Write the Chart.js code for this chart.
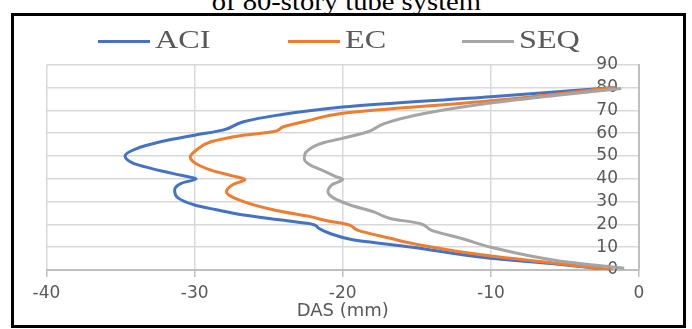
<!DOCTYPE html>
<html>
<head>
<meta charset="utf-8">
<script src="https://cdn.jsdelivr.net/npm/chart.js@4.4.1/dist/chart.umd.min.js"></script>
<style>
  html, body { margin:0; padding:0; background:#fff; width:692px; height:329px; overflow:hidden; }
  #wrap { position:relative; width:692px; height:329px; overflow:hidden; }
  #c { position:absolute; left:0; top:0; }
  #frame { position:absolute; left:11px; top:13px; width:669px; height:309px; border:3px solid #000; pointer-events:none; }
  #title { position:absolute; left:0; top:-11px; width:692px; text-align:center; white-space:nowrap;
           font-family:'Liberation Serif', serif; font-size:26px; line-height:26px; color:#000; }
  #title span { display:inline-block; transform:scaleX(1.1); transform-origin:center; }
  .li { position:absolute; top:0; height:60px; }
  .li .ln { position:absolute; left:0; top:40px; width:52px; height:3px; }
  .li .tx { position:absolute; left:57px; top:27px; font-family:'Liberation Serif', serif; font-size:26px; line-height:26px;
            color:#595959; white-space:nowrap; transform:scaleX(1.24); transform-origin:left center; }
  .li0 { left:98px; } .li1 { left:288px; } .li2 { left:462px; }
</style>
</head>
<body>
<div id="wrap">
  <div id="title"><span>of 80-story tube system</span></div>
  <canvas id="c" width="692" height="329"></canvas>
  <div id="legend"></div>
  <div id="frame"></div>
</div>
<script>
// ---- data (story level vs. DAS in mm) ----
const storiesACI = [0, 2.6, 5.1, 10, 13.4, 16.1, 18.2, 20.1, 22, 24.1, 26.5, 28.5, 31.5, 35, 38, 40, 41.5, 43.5, 45.3, 47, 50, 53, 56.2, 59.1, 61.3, 65, 67.9, 71.5, 76, 80];
const dasACI     = [-1.8, -5.6, -10, -15.3, -19.4, -20.9, -21.6, -22.1, -24.3, -26.7, -28.6, -30, -31.1, -31.35, -30.9, -29.9, -30.9, -32.3, -33.4, -34.2, -34.7, -34.0, -32.3, -30, -28.1, -26.7, -24.4, -20, -10, -1.6];

const storiesEC = [0, 3.0, 6.1, 11, 13.9, 17.5, 19.6, 20.3, 21.5, 23.4, 26, 30, 34.3, 37.5, 39.7, 41.5, 43.8, 45.6, 47.5, 49.4, 52.5, 56.2, 59.1, 60.6, 62.8, 65.7, 68.6, 74.2, 80];
const dasEC     = [-1.8, -5.6, -10, -14.8, -16.8, -19.0, -19.5, -19.9, -21.0, -22.2, -24.4, -26.7, -27.85, -27.4, -26.6, -27.6, -28.9, -29.6, -30.1, -30.3, -29.9, -28.9, -26.7, -24.7, -24.0, -22.2, -20.1, -10, -1.6];

const storiesSEQ = [0.8, 4.1, 10, 13.5, 17.4, 20.4, 22.6, 25.5, 28.5, 31.5, 34.3, 37.5, 39.7, 41, 43.5, 46, 48.9, 51.5, 54, 56, 57.6, 60.6, 64.2, 68.6, 73.3, 76.6, 79.6];
const dasSEQ     = [-1.0, -5.5, -10, -11.8, -14.0, -14.8, -16.8, -17.9, -19.5, -20.6, -21.0, -20.7, -20.0, -20.5, -21.3, -22.2, -22.6, -22.5, -22.0, -21.2, -20.1, -18.3, -17.2, -14.5, -9.9, -5.5, -1.2];

const seriesNames = ['ACI', 'EC', 'SEQ'];
const seriesColors = ['#4472C4', '#ED7D31', '#A5A5A5'];
const xTicks = [-40, -30, -20, -10, 0];
const yTicks = [0, 10, 20, 30, 40, 50, 60, 70, 80, 90];
const xTitle = 'DAS (mm)';

const toPoints = (xs, ys) => xs.map((x, i) => ({ x: x, y: ys[i] }));
const allX = [dasACI, dasEC, dasSEQ];
const allY = [storiesACI, storiesEC, storiesSEQ];

const datasets = seriesNames.map((name, i) => ({
  label: name,
  data: toPoints(allX[i], allY[i]),
  borderColor: seriesColors[i],
  backgroundColor: seriesColors[i],
  borderWidth: 3,
  pointRadius: 0,
  pointHoverRadius: 0,
  cubicInterpolationMode: 'monotone',
  fill: false,
  order: 3 - i
}));

const tickFont = { family: 'DejaVu Sans', size: 17 };

const chart = new Chart(document.getElementById('c'), {
  type: 'line',
  data: { datasets: datasets },
  options: {
    indexAxis: 'y',
    responsive: false,
    animation: false,
    devicePixelRatio: 1,
    layout: { padding: { left: 46.5, top: 64.7, right: 0, bottom: 0 } },
    plugins: { legend: { display: false }, tooltip: { enabled: false }, title: { display: false } },
    scales: {
      x: {
        type: 'linear', position: 'bottom', min: -40, max: 0,
        afterBuildTicks: s => { s.ticks = xTicks.map(v => ({ value: v })); },
        afterFit: s => { s.height = 59; },
        grid: { color: '#d9d9d9', lineWidth: 1.5, drawTicks: true, tickLength: 7, tickColor: '#bfbfbf', tickWidth: 1.5 },
        border: { color: '#bfbfbf', width: 2 },
        ticks: { font: tickFont, color: '#595959', padding: 6, maxRotation: 0, autoSkip: false },
        title: { display: true, text: xTitle, font: { family: 'DejaVu Sans', size: 18 }, color: '#595959', padding: { top: 0, bottom: 7 } }
      },
      y: {
        type: 'linear', position: 'right', min: 0, max: 90,
        afterBuildTicks: s => { s.ticks = yTicks.map(v => ({ value: v })); },
        afterFit: s => { s.width = 53; },
        grid: { color: '#d9d9d9', lineWidth: 1.5, drawTicks: false },
        border: { color: '#bfbfbf', width: 2 },
        ticks: { mirror: true, padding: -21, font: tickFont, color: '#595959', autoSkip: false }
      }
    }
  }
});

// HTML legend built from the chart's datasets (in dataset order)
const legendEl = document.getElementById('legend');
chart.data.datasets.forEach((ds, i) => {
  const d = document.createElement('div');
  d.className = 'li li' + i;
  const ln = document.createElement('div');
  ln.className = 'ln';
  ln.style.background = ds.borderColor;
  const tx = document.createElement('span');
  tx.className = 'tx';
  tx.textContent = ds.label;
  d.appendChild(ln); d.appendChild(tx);
  legendEl.appendChild(d);
});
</script>
</body>
</html>
